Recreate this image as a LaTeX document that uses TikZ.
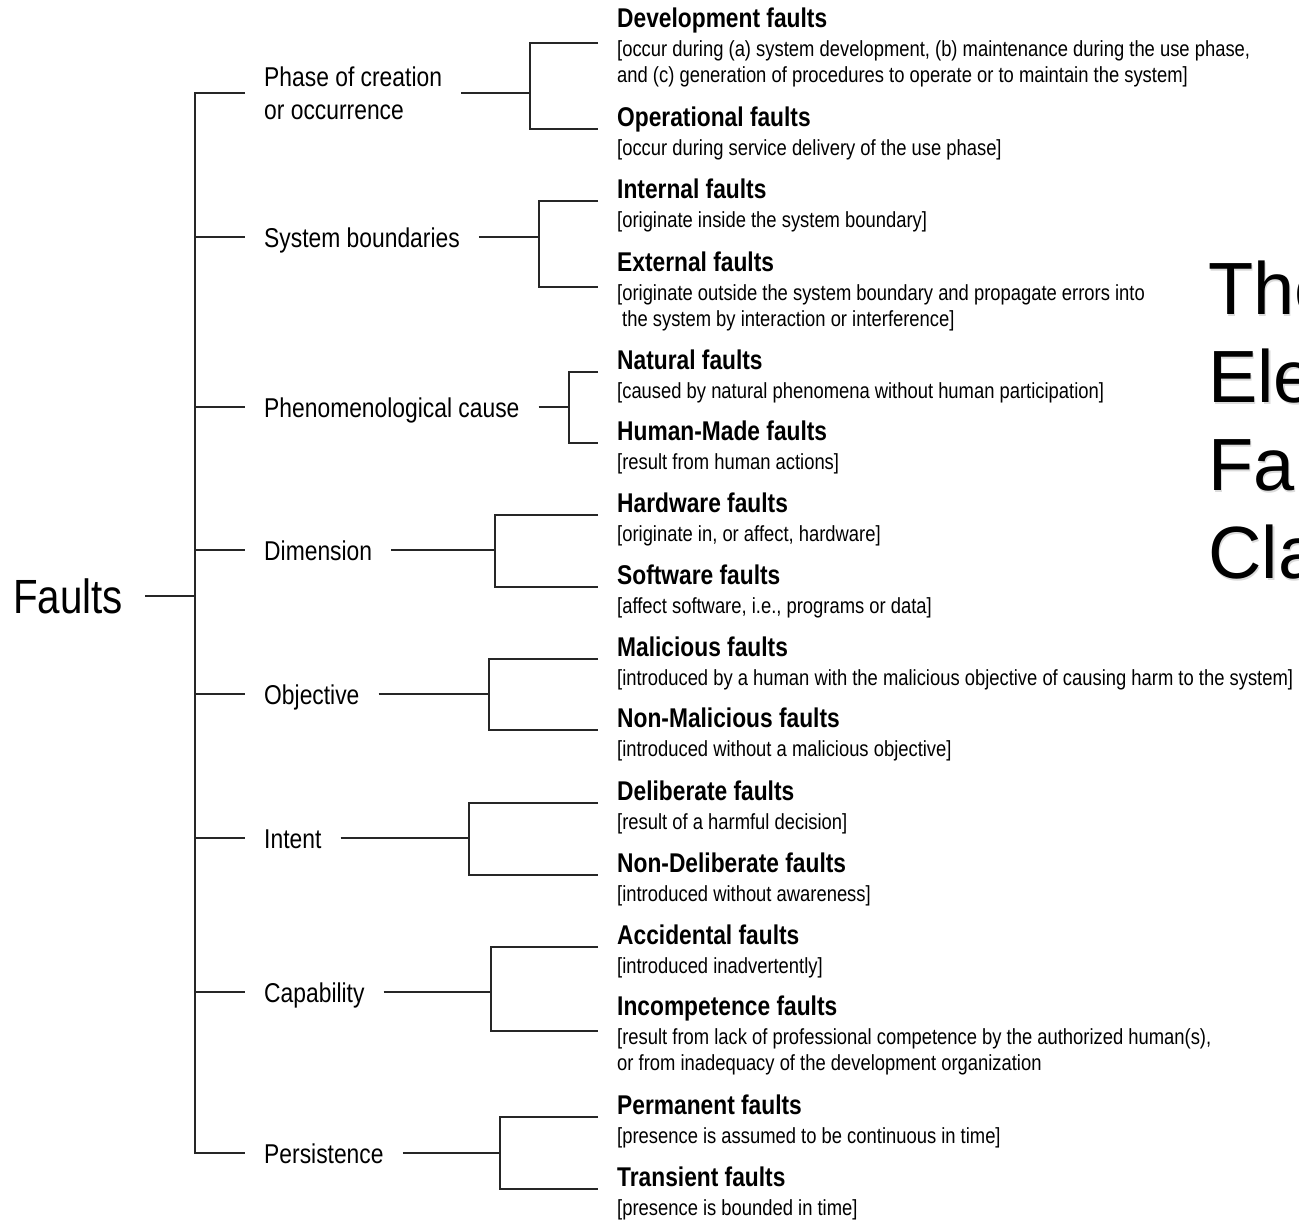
\documentclass[tikz,border=0pt]{standalone}
\usepackage{fontspec}
\newfontfamily\narrowsans[FakeStretch=0.84]{Liberation Sans}
\newfontfamily\slidesans{Liberation Sans}

% bold head line of a leaf, with a strut that sets the block's top edge
\newcommand\leafhead[1]{{\bfseries\fontsize{27.1}{26}\selectfont\rule{0pt}{29pt}#1}\\[3pt]}

\tikzset{
  conn/.style={draw=black!85, line width=1.8pt},
  root/.style={font=\narrowsans\fontsize{48}{50}\selectfont, inner xsep=22pt, inner ysep=0pt, anchor=east},
  category/.style={font=\narrowsans\fontsize{27.2}{33}\selectfont, align=left, inner xsep=19pt, inner ysep=0pt, anchor=west},
  catline/.style={category, text height=24pt, text depth=4pt},
  leaf/.style={font=\narrowsans\fontsize{21.9}{26}\selectfont, align=left, inner xsep=19pt, inner ysep=0pt, anchor=west},
  slidetitle/.style={font=\slidesans\fontsize{74}{88}\selectfont, anchor=base west, inner sep=0pt},
  slideshadow/.style={slidetitle, text=black!14},
}

\begin{document}
\begin{tikzpicture}[x=1pt,y=-1pt]
\useasboundingbox (0,0) rectangle (1299,1219);
\clip (0,0) rectangle (1299,1219);
\fill[white] (0,0) rectangle (1299,1219);

% slide heading running off the right edge
\foreach \txt/\yy/\nm in {The/314/ta, Ele/402/tb, Fa/490/tc, Cla/578/td}{
  \node[slideshadow] (\nm s) at (1209.5,\yy+2) {\txt};
  \node[slidetitle] (\nm) at (1208,\yy) {\txt};
}

% root
\node[root] (root) at (145,596) {Faults};
\coordinate (hub) at (195,596);

% categories
\node[category] (phase)   at (245,93)   {Phase of creation\\or occurrence};
\node[catline]  (sysb)    at (245,237)  {System boundaries};
\node[catline]  (phen)    at (245,407)  {Phenomenological cause};
\node[catline]  (dim)     at (245,550)  {Dimension};
\node[catline]  (obj)     at (245,694)  {Objective};
\node[catline]  (intent)  at (245,838)  {Intent};
\node[catline]  (capab)   at (245,992)  {Capability};
\node[catline]  (persist) at (245,1153) {Persistence};

% junctions of the second level
\coordinate (phaseJ)   at (530,93);
\coordinate (sysbJ)    at (539,237);
\coordinate (phenJ)    at (569,407);
\coordinate (dimJ)     at (495,550);
\coordinate (objJ)     at (489,694);
\coordinate (intentJ)  at (469,838);
\coordinate (capabJ)   at (491,992);
\coordinate (persistJ) at (500,1153);

% leaves
\node[leaf] (dev) at (598,43) {\leafhead{Development faults}{[}occur during (a) system development, (b) maintenance during the use phase,\\and (c) generation of procedures to operate or to maintain the system]};
\node[leaf] (oper) at (598,129) {\leafhead{Operational faults}{[}occur during service delivery of the use phase]};
\node[leaf] (intl) at (598,201) {\leafhead{Internal faults}{[}originate inside the system boundary]};
\node[leaf] (extl) at (598,287) {\leafhead{External faults}{[}originate outside the system boundary and propagate errors into\\\kern5pt the system by interaction or interference]};
\node[leaf] (natl) at (598,372) {\leafhead{Natural faults}{[}caused by natural phenomena without human participation]};
\node[leaf] (human) at (598,443) {\leafhead{Human-Made faults}{[}result from human actions]};
\node[leaf] (hw) at (598,515) {\leafhead{Hardware faults}{[}originate in, or affect, hardware]};
\node[leaf] (sw) at (598,587) {\leafhead{Software faults}{[}affect software, i.e., programs or data]};
\node[leaf] (mal) at (598,659) {\leafhead{Malicious faults}{[}introduced by a human with the malicious objective of causing harm to the system]};
\node[leaf] (nonmal) at (598,730) {\leafhead{Non-Malicious faults}{[}introduced without a malicious objective]};
\node[leaf] (delib) at (598,803) {\leafhead{Deliberate faults}{[}result of a harmful decision]};
\node[leaf] (nondelib) at (598,875) {\leafhead{Non-Deliberate faults}{[}introduced without awareness]};
\node[leaf] (accid) at (598,947) {\leafhead{Accidental faults}{[}introduced inadvertently]};
\node[leaf] (incomp) at (598,1031) {\leafhead{Incompetence faults}{[}result from lack of professional competence by the authorized human(s),\\or from inadequacy of the development organization};
\node[leaf] (perm) at (598,1117) {\leafhead{Permanent faults}{[}presence is assumed to be continuous in time]};
\node[leaf] (trans) at (598,1189) {\leafhead{Transient faults}{[}presence is bounded in time]};

% first level: root to categories
\draw[conn] (root.east) -- (hub);
\draw[conn] (phase.west) -| (hub) |- (persist.west);
\foreach \c in {sysb, phen, dim, obj, intent, capab}{
  \draw[conn] (hub |- \c.west) -- (\c.west);
}

% second level: categories to leaves
\foreach \c/\a/\b in {phase/dev/oper, sysb/intl/extl, phen/natl/human, dim/hw/sw,
                      obj/mal/nonmal, intent/delib/nondelib, capab/accid/incomp, persist/perm/trans}{
  \draw[conn] (\c.east) -- (\c J);
  \draw[conn] (\a.west) -| (\c J) |- (\b.west);
}
\end{tikzpicture}
\end{document}
